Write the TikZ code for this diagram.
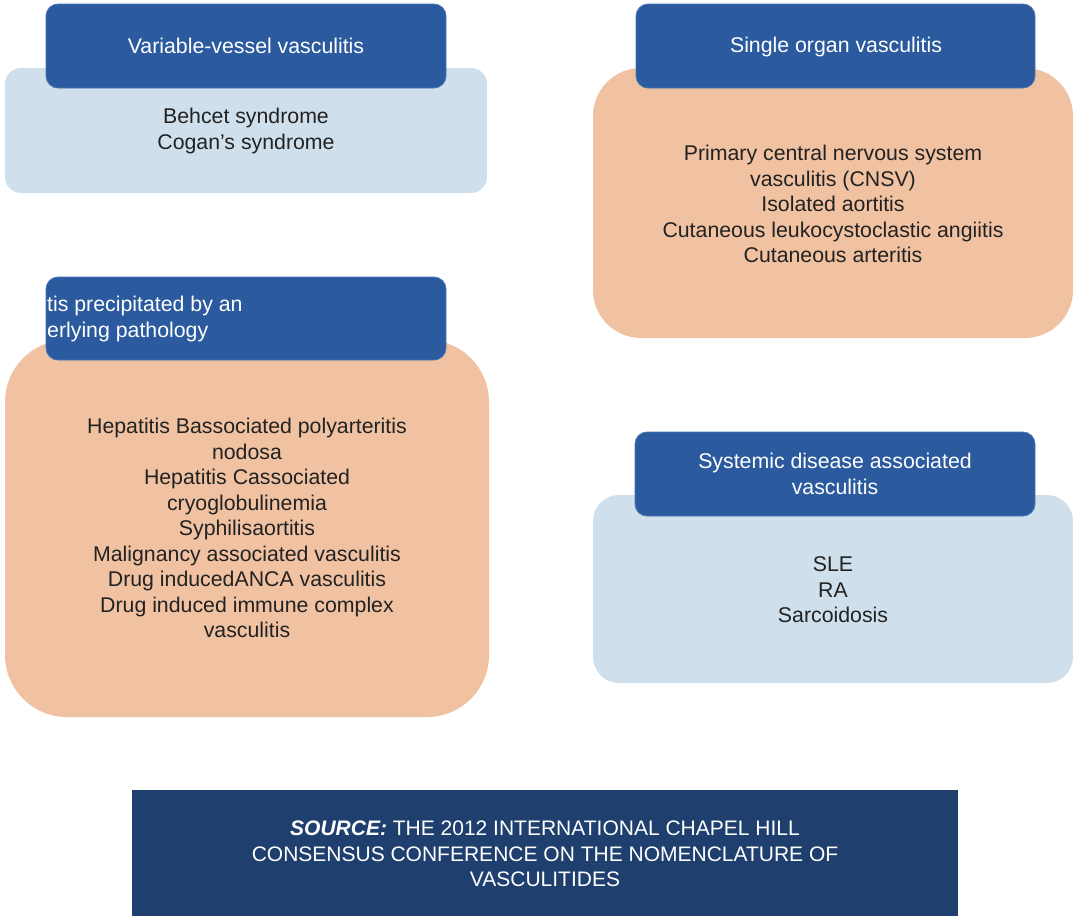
\documentclass[tikz,border=0pt]{standalone}
\usepackage{fontspec}
\setmainfont{Liberation Sans}
\definecolor{hdr}{HTML}{2B5B9E}
\definecolor{hdrline}{HTML}{4A76B4}
\definecolor{lblue}{HTML}{CFE0EC}
\definecolor{peach}{HTML}{F0C2A2}
\definecolor{navy}{HTML}{1F3F6E}
\definecolor{txt}{HTML}{222222}
\begin{document}
\begin{tikzpicture}[x=1pt,y=-1pt,
  hdrbox/.style={fill=hdr,draw=hdrline,line width=0.8pt,rounded corners=12pt},
  lbbox/.style={fill=lblue,draw=none},
  pcbox/.style={fill=peach,draw=none},
  hdrtext/.style={text=white,font=\fontsize{21.3}{25.5}\selectfont,align=center,inner sep=0pt},
  bodytext/.style={text=txt,font=\fontsize{21.3}{25.5}\selectfont,align=center,inner sep=0pt}]
\useasboundingbox (0,0) rectangle (1073,916);
% box 1
\path[lbbox,rounded corners=16pt] (5,68) rectangle (487,193);
\path[hdrbox] (46,4) rectangle (446,88);
\node[hdrtext] (h1) at (246,46) {Variable-vessel vasculitis};
\node[bodytext] (b1) at (246,131) {Behcet syndrome\\Cogan’s syndrome};
% box 2
\path[pcbox,rounded corners=48pt] (593,68) rectangle (1073,338);
\path[hdrbox] (636,4) rectangle (1035,88);
\node[hdrtext] (h2) at (836,47) {Single organ vasculitis};
\node[bodytext] (b2) at (833,204) {Primary central nervous system\\vasculitis (CNSV)\\Isolated aortitis\\Cutaneous leukocystoclastic angiitis\\Cutaneous arteritis};
% box 3
\path[pcbox,rounded corners=62pt] (5,340) rectangle (489,717);
\path[hdrbox] (46,277) rectangle (446,360);
\node[hdrtext,align=left,anchor=west] (h3) at (47,319) {tis precipitated by an\\erlying pathology};
\node[bodytext] (b3) at (247,528) {Hepatitis Bassociated polyarteritis\\nodosa\\Hepatitis Cassociated\\cryoglobulinemia\\Syphilisaortitis\\Malignancy associated vasculitis\\Drug inducedANCA vasculitis\\Drug induced immune complex\\vasculitis};
% box 4
\path[lbbox,rounded corners=26pt] (593,495) rectangle (1073,683);
\path[hdrbox] (635,432) rectangle (1035,516);
\node[hdrtext] (h4) at (835,474) {Systemic disease associated\\vasculitis};
\node[bodytext] (b4) at (833,590) {SLE\\RA\\Sarcoidosis};
% source
\path[fill=navy] (132,790) rectangle (958,916);
\node[text=white,font=\fontsize{21}{25.5}\selectfont,align=center,inner sep=0pt] (src) at (545,854)
  {\textbf{\textit{SOURCE:}} THE 2012 INTERNATIONAL CHAPEL HILL\\
   CONSENSUS CONFERENCE ON THE NOMENCLATURE OF\\
   VASCULITIDES};
\end{tikzpicture}
\end{document}
